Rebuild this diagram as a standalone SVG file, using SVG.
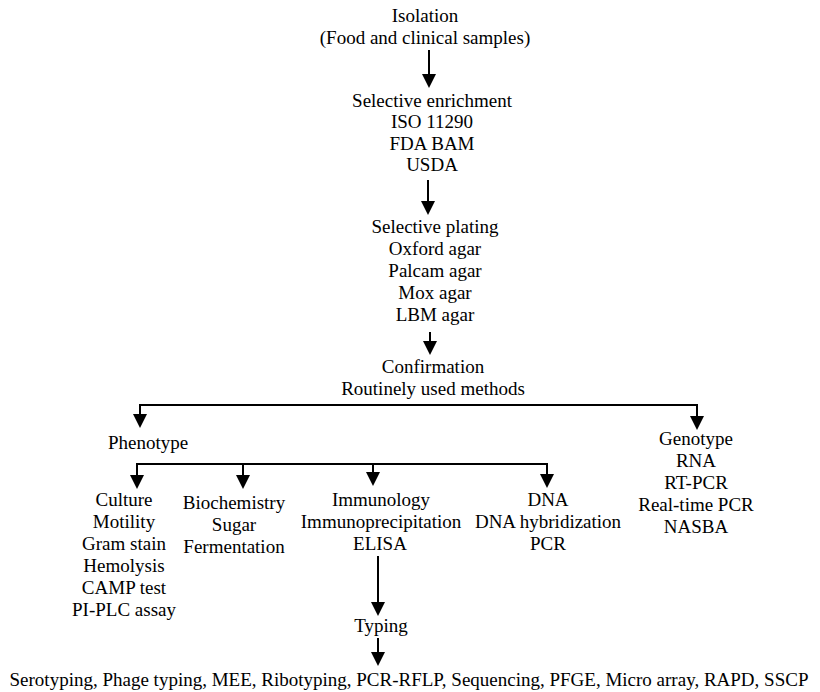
<svg xmlns="http://www.w3.org/2000/svg" width="820" height="692" viewBox="0 0 820 692">
<style>
.t{font-family:'Liberation Serif','Times New Roman',serif;font-size:19px;fill:#000;text-anchor:middle}
.c{stroke:#000;stroke-width:2;fill:none}
.h{fill:#000;stroke:none}
</style>
<rect width="820" height="692" fill="#fff"/>
<g id="connectors">
<line class="c" x1="429" y1="50" x2="429" y2="76"/><polygon class="h" points="422,74 436,74 429,88"/>
<line class="c" x1="428" y1="180" x2="428" y2="203"/><polygon class="h" points="421,201 435,201 428,215"/>
<line class="c" x1="430" y1="332" x2="430" y2="343"/><polygon class="h" points="423,341 437,341 430,355"/>
<polyline class="c" points="140,416 140,405 697,405 697,418"/>
<polygon class="h" points="133,414 147,414 140,428"/>
<polygon class="h" points="690,416 704,416 697,430"/>
<polyline class="c" points="137,477 137,464 547,464 547,476"/>
<line class="c" x1="243" y1="464" x2="243" y2="477"/>
<line class="c" x1="373" y1="464" x2="373" y2="474"/>
<polygon class="h" points="130,475 144,475 137,489"/>
<polygon class="h" points="236,475 250,475 243,489"/>
<polygon class="h" points="366,472 380,472 373,486"/>
<polygon class="h" points="540,474 554,474 547,488"/>
<line class="c" x1="378" y1="556" x2="378" y2="604"/><polygon class="h" points="371,602 385,602 378,616"/>
<line class="c" x1="378" y1="638" x2="378" y2="654"/><polygon class="h" points="371,652 385,652 378,666"/>
</g>
<g id="isolation"><text class="t" x="425" y="22">Isolation</text><text class="t" x="425" y="44">(Food and clinical samples)</text></g>
<g id="enrichment"><text class="t" x="432" y="107">Selective enrichment</text><text class="t" x="432" y="128">ISO 11290</text><text class="t" x="432" y="150">FDA BAM</text><text class="t" x="432" y="171">USDA</text></g>
<g id="plating"><text class="t" x="435" y="233">Selective plating</text><text class="t" x="435" y="255">Oxford agar</text><text class="t" x="435" y="277">Palcam agar</text><text class="t" x="435" y="299">Mox agar</text><text class="t" x="435" y="321">LBM agar</text></g>
<g id="confirmation"><text class="t" x="433" y="373">Confirmation</text><text class="t" x="433" y="395">Routinely used methods</text></g>
<g id="phenotype"><text class="t" x="148" y="449">Phenotype</text></g>
<g id="genotype"><text class="t" x="696" y="445">Genotype</text><text class="t" x="696" y="467">RNA</text><text class="t" x="696" y="489">RT-PCR</text><text class="t" x="696" y="511">Real-time PCR</text><text class="t" x="696" y="533">NASBA</text></g>
<g id="culture"><text class="t" x="124" y="506">Culture</text><text class="t" x="124" y="528">Motility</text><text class="t" x="124" y="550">Gram stain</text><text class="t" x="124" y="572">Hemolysis</text><text class="t" x="124" y="594">CAMP test</text><text class="t" x="124" y="616">PI-PLC assay</text></g>
<g id="biochemistry"><text class="t" x="234" y="509">Biochemistry</text><text class="t" x="234" y="531">Sugar</text><text class="t" x="234" y="553">Fermentation</text></g>
<g id="immunology"><text class="t" x="381" y="506">Immunology</text><text class="t" x="381" y="528">Immunoprecipitation</text><text class="t" x="380" y="550">ELISA</text></g>
<g id="dna"><text class="t" x="548" y="506">DNA</text><text class="t" x="548" y="528">DNA hybridization</text><text class="t" x="548" y="550">PCR</text></g>
<g id="typing"><text class="t" x="381" y="632">Typing</text></g>
<g id="methods"><text class="t" x="409" y="686">Serotyping, Phage typing, MEE, Ribotyping, PCR-RFLP, Sequencing, PFGE, Micro array, RAPD, SSCP</text></g>
</svg>
